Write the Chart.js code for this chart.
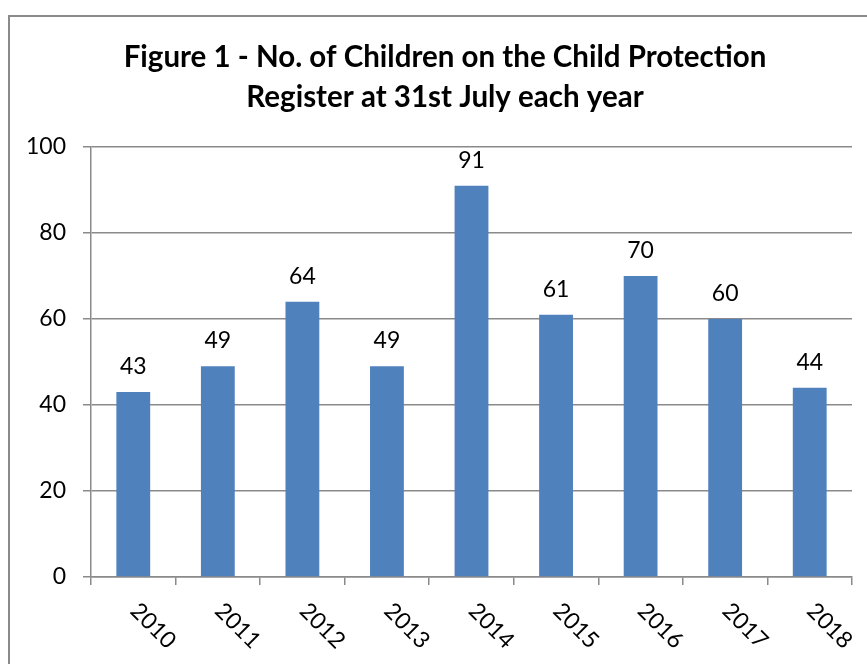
<!DOCTYPE html>
<html>
<head>
<meta charset="utf-8">
<script src="https://cdn.jsdelivr.net/npm/chart.js@4/dist/chart.umd.min.js"></script>
<style>
  html, body { margin: 0; padding: 0; background: #fff; overflow: hidden; }
  #wrap { position: relative; width: 867px; height: 664px; }
  #frame {
    position: absolute; left: 8px; top: 15px; width: 880px; height: 700px;
    border: 2px solid #8a8a8a; pointer-events: none;
  }
  canvas { position: absolute; left: 0; top: 0; }
</style>
</head>
<body>
<div id="wrap">
  <canvas id="chart" width="867" height="664" style="width:867px;height:664px"></canvas>
  <div id="frame"></div>
</div>
<script>
// Data
const years = ["2010", "2011", "2012", "2013", "2014", "2015", "2016", "2017", "2018"];
const children = [43, 49, 64, 49, 91, 61, 70, 60, 44];
const yTicks = [0, 20, 40, 60, 80, 100];

const titleLines = [
  "Figure 1 - No. of Children on the Child Protection",
  "Register at 31st July each year"
];

const barColor = "#4F81BD";
const lineColor = "#8a8a8a";
const fontName = "Lato";

// values above the bars
const valueLabels = {
  id: "valueLabels",
  afterDatasetsDraw(chart) {
    const ctx = chart.ctx;
    const meta = chart.getDatasetMeta(0);
    ctx.save();
    ctx.font = "23px " + fontName;
    ctx.fillStyle = "#000";
    ctx.textAlign = "center";
    ctx.textBaseline = "alphabetic";
    meta.data.forEach((bar, i) => {
      ctx.fillText(String(children[i]), bar.x, bar.y - 18);
    });
    ctx.restore();
  }
};

// x labels turned 45 degrees clockwise, starting under each tick
const slantedYears = {
  id: "slantedYears",
  afterDraw(chart) {
    const ctx = chart.ctx;
    const xs = chart.scales.x;
    ctx.save();
    ctx.font = "23px " + fontName;
    ctx.fillStyle = "#000";
    ctx.textAlign = "left";
    ctx.textBaseline = "middle";
    years.forEach((yr, i) => {
      const px = xs.getPixelForTick(i);
      ctx.save();
      ctx.translate(px + 1, xs.top + 30);
      ctx.rotate(Math.PI / 4);
      ctx.fillText(yr, 0, 0);
      ctx.restore();
    });
    ctx.restore();
  }
};

const data = {
  labels: years,
  datasets: [{
    label: "Children",
    data: children,
    backgroundColor: barColor,
    borderWidth: 0,
    barPercentage: 0.4,
    categoryPercentage: 1.0
  }]
};

const options = {
  responsive: false,
  animation: false,
  layout: { padding: { left: 23, right: 0, top: 0, bottom: 0 } },
  plugins: {
    legend: { display: false },
    tooltip: { enabled: false },
    title: {
      display: true,
      text: titleLines,
      color: "#000",
      font: { family: fontName, size: 29.5, weight: "bold", lineHeight: 40 / 29.5 },
      padding: { top: 37, bottom: 30 }
    }
  },
  scales: {
    x: {
      grid: {
        display: true,
        drawOnChartArea: false,
        drawTicks: true,
        tickLength: 8,
        color: lineColor,
        lineWidth: 1.5
      },
      border: { display: true, color: lineColor, width: 1.5 },
      ticks: { display: false },
      afterFit(scale) { scale.height = 87; }
    },
    y: {
      min: 0,
      max: 100,
      afterBuildTicks(scale) { scale.ticks = yTicks.map(v => ({ value: v })); },
      grid: {
        color: lineColor,
        lineWidth: 1.5,
        tickLength: 8
      },
      border: { display: true, color: lineColor, width: 1.5 },
      ticks: {
        color: "#000",
        padding: 17,
        font: { family: fontName, size: 23 }
      },
      afterFit(scale) { scale.width = 68; }
    },
    // empty strip on the right so the plot stops short of the frame
    yRight: {
      position: "right",
      min: 0,
      max: 100,
      grid: { drawOnChartArea: false, drawTicks: false },
      border: { display: false },
      ticks: { display: false },
      afterFit(scale) { scale.width = 15; }
    }
  }
};

new Chart(document.getElementById("chart").getContext("2d"), {
  type: "bar",
  data: data,
  options: options,
  plugins: [valueLabels, slantedYears]
});
</script>
</body>
</html>
